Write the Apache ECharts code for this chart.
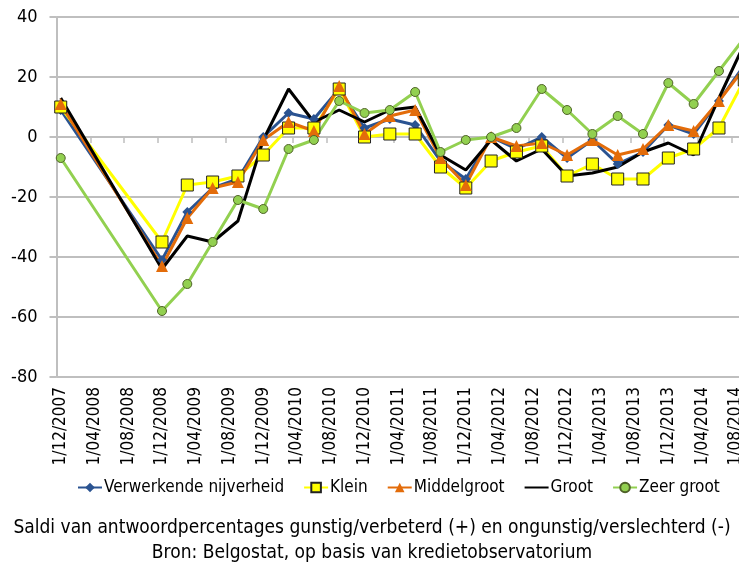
<!DOCTYPE html>
<html>
	<head>
		<meta charset="utf-8">
		<title>Saldi kredietobservatorium</title>
		<script src="https://cdn.jsdelivr.net/npm/echarts@6/dist/echarts.min.js"></script>
	</head>
	<body style="margin:0;overflow:hidden;">
		<!-- de grafiek loopt rechts buiten beeld, zoals in het origineel -->
		<div style="width: 739px;height:566px;overflow:hidden;">
			<div id="main" style="width: 800px;height:566px;"></div>
		</div>
		<script>
		// peildata (kwartaal) en waarden
		var dates = ['1/12/2007','1/12/2008','1/03/2009','1/06/2009','1/09/2009','1/12/2009','1/03/2010','1/06/2010','1/09/2010','1/12/2010',
			'1/03/2011','1/06/2011','1/09/2011','1/12/2011','1/03/2012','1/06/2012','1/09/2012','1/12/2012','1/03/2013','1/06/2013',
			'1/09/2013','1/12/2013','1/03/2014','1/06/2014','1/09/2014'];
		var verwerkende = [9, -41, -25, -17, -14, 0, 8, 6, 16, 3, 6, 4, -8, -14, 0, -4, 0, -7, -1, -9, -5, 4, 1, 12, 24];
		var klein = [10, -35, -16, -15, -13, -6, 3, 3, 16, 0, 1, 1, -10, -17, -8, -5, -3, -13, -9, -14, -14, -7, -4, 3, 19];
		var middelgroot = [11, -43, -27, -17, -15, -1, 5, 2, 17, 1, 7, 9, -7, -16, 0, -3, -2, -6, -1, -6, -4, 4, 2, 12, 23];
		var groot = [13, -44, -33, -35, -28, -1, 16, 5, 9, 5, 9, 10, -6, -11, -1, -8, -4, -13, -12, -10, -5, -2, -6, 13, 31];
		var zeerGroot = [-7, -58, -49, -35, -21, -24, -4, -1, 12, 8, 9, 15, -5, -1, 0, 3, 16, 9, 1, 7, 1, 18, 11, 22, 33];

		// maandelijkse as van 1/12/2007 t.e.m. 1/09/2014
		var months = [];
		for (var y = 2007, m = 12; y < 2014 || (y == 2014 && m <= 9); ) {
			months.push('1/' + (m < 10 ? '0' + m : m) + '/' + y);
			m++;
			if (m > 12) { m = 1; y++; }
		}

		function pairs(vals) {
			var out = [];
			for (var i = 0; i < vals.length; i++) {
				out.push([dates[i], vals[i]]);
			}
			return out;
		}

		var font = '"Liberation Sans Narrow", "Arial Narrow", "DejaVu Sans Condensed", sans-serif';
		var grey = '#bfbfbf';

		var chart = echarts.init(document.getElementById('main'));
		var option = {
			animation: false,
			textStyle: { fontFamily: font },
			grid: { left: 56.5, top: 17, width: 692, height: 360 },
			legend: {
				top: 479,
				left: 77,
				width: 720,
				padding: 0,
				itemWidth: 24,
				itemHeight: 12,
				itemGap: 19,
				textStyle: { fontFamily: font, fontSize: 17, color: '#000', padding: [0, 0, 0, -3] },
				data: ['Verwerkende nijverheid', 'Klein', 'Middelgroot',
					{ name: 'Groot', itemStyle: { opacity: 0 } }, 'Zeer groot']
			},
			title: {
				text: 'Saldi van antwoordpercentages gunstig/verbeterd (+) en ongunstig/verslechterd (-)\nBron: Belgostat, op basis van kredietobservatorium',
				left: 367,
				top: 511,
				textAlign: 'center',
				textStyle: { fontFamily: font, fontSize: 19, fontWeight: 'normal', color: '#000', lineHeight: 25, align: 'center' }
			},
			xAxis: [
				{
					type: 'category',
					data: months,
					boundaryGap: true,
					position: 'bottom',
					axisLine: { show: false, onZero: false },
					axisTick: { show: false },
					axisLabel: { interval: 3, rotate: 90, margin: 10, fontSize: 17, color: '#000', fontFamily: font }
				},
				{
					type: 'category',
					data: months,
					boundaryGap: true,
					position: 'top',
					axisLine: { show: true, onZero: true, lineStyle: { color: grey, width: 2 } },
					axisTick: { show: true, interval: 3, inside: true, length: 6, lineStyle: { color: grey, width: 1.5 } },
					axisLabel: { show: false }
				}
			],
			yAxis: {
				type: 'value',
				min: -80,
				max: 40,
				interval: 20,
				axisLine: { show: true, lineStyle: { color: grey, width: 2 } },
				axisTick: { show: true, length: 7, lineStyle: { color: grey, width: 2 } },
				axisLabel: { margin: 19, fontSize: 18, color: '#000', fontFamily: font },
				splitLine: { lineStyle: { color: grey, width: 2 } }
			},
			series: [
				{
					name: 'Verwerkende nijverheid', type: 'line', data: pairs(verwerkende),
					symbol: 'diamond', symbolSize: 10, showAllSymbol: true,
					lineStyle: { color: '#2a5391', width: 3 },
					itemStyle: { color: '#2a5391' }
				},
				{
					name: 'Klein', type: 'line', data: pairs(klein),
					symbol: 'rect', symbolSize: 12, showAllSymbol: true,
					lineStyle: { color: '#ffff00', width: 3 },
					itemStyle: { color: '#ffff00', borderColor: '#222', borderWidth: 1 }
				},
				{
					name: 'Middelgroot', type: 'line', data: pairs(middelgroot),
					symbol: 'triangle', symbolSize: 12, showAllSymbol: true,
					lineStyle: { color: '#e36c0a', width: 3 },
					itemStyle: { color: '#e36c0a' }
				},
				{
					name: 'Groot', type: 'line', data: pairs(groot),
					symbol: 'none',
					lineStyle: { color: '#000', width: 3 },
					itemStyle: { color: '#000' }
				},
				{
					name: 'Zeer groot', type: 'line', data: pairs(zeerGroot),
					symbol: 'circle', symbolSize: 9, showAllSymbol: true,
					lineStyle: { color: '#92d050', width: 3 },
					itemStyle: { color: '#92d050', borderColor: '#4f6228', borderWidth: 1 }
				}
			]
		};
		chart.setOption(option);
		</script>
	</body>
</html>
